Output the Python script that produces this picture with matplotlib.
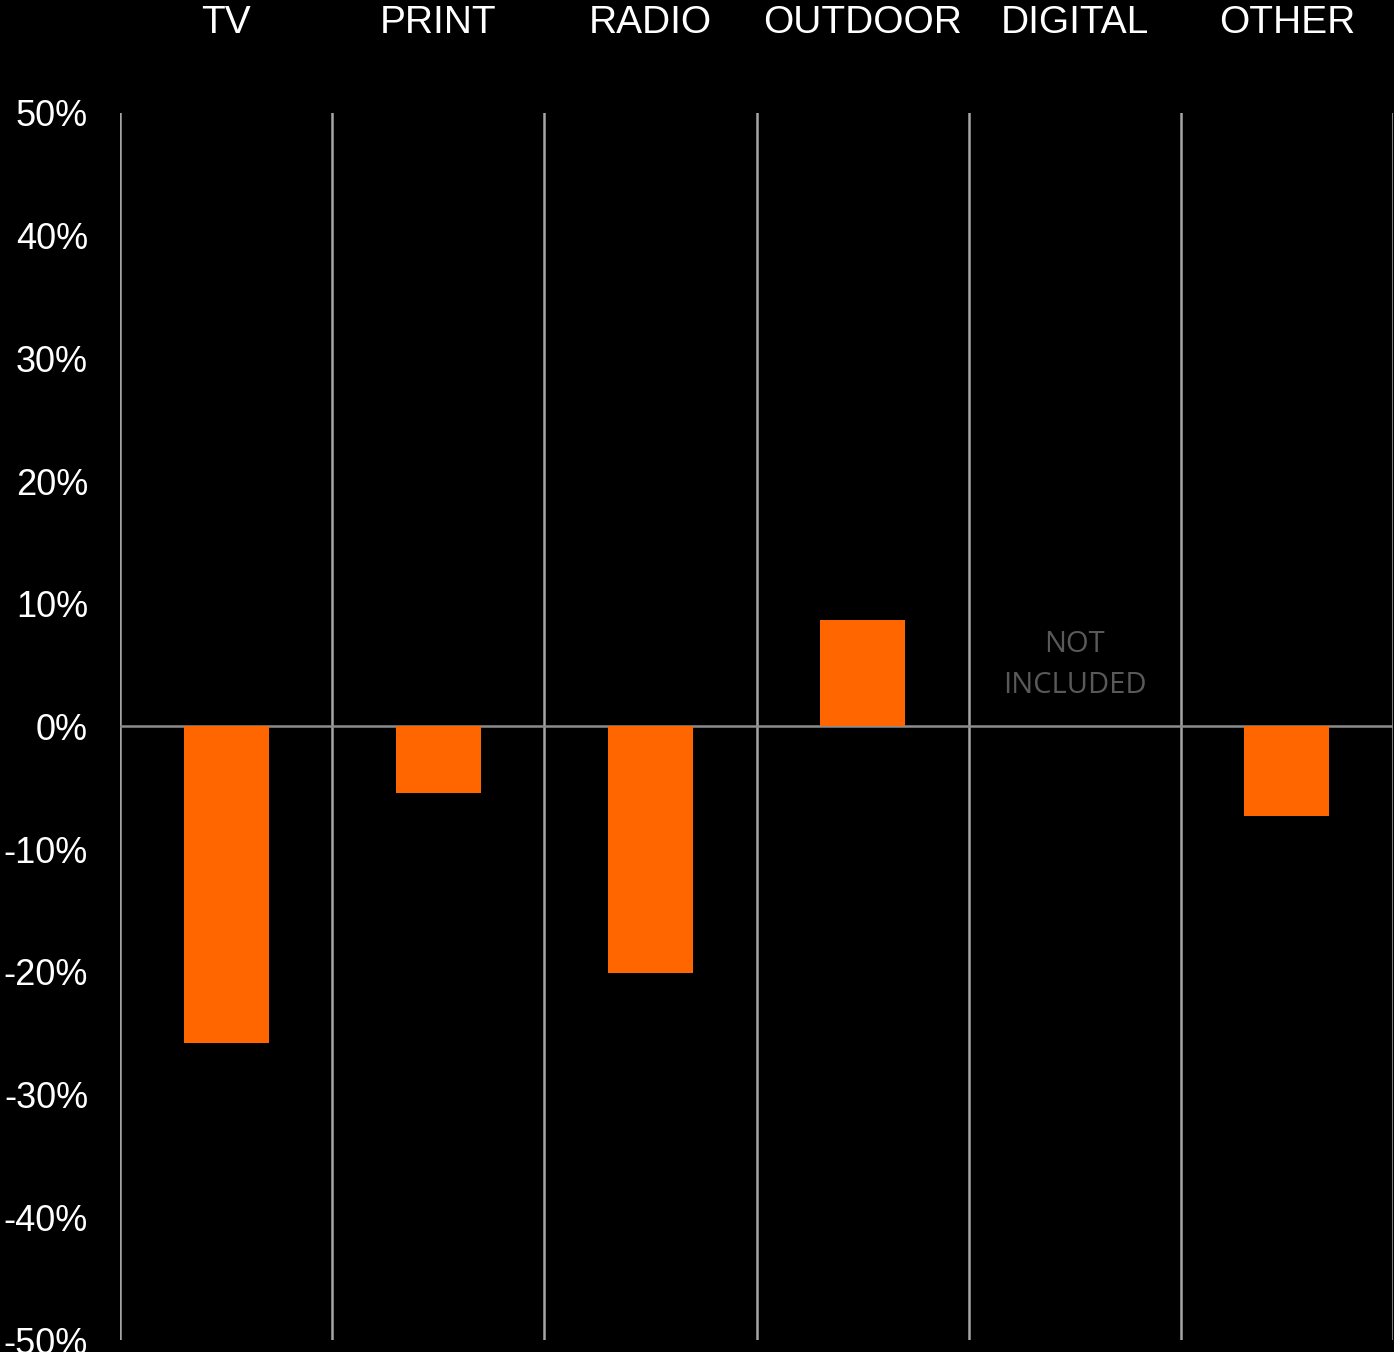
import numpy as np
import matplotlib
matplotlib.use("Agg")
import matplotlib.pyplot as plt
from matplotlib.ticker import FuncFormatter

# Données
categories = ["TV", "PRINT", "RADIO", "OUTDOOR", "DIGITAL", "OTHER"]
variation = [-25.8, -5.4, -20.1, 8.7, np.nan, -7.3]
y_ticks = [50, 40, 30, 20, 10, 0, -10, -20, -30, -40, -50]
note_text = "NOT\nINCLUDED"
note_category = "DIGITAL"

plt.rcParams['font.family'] = ['Liberation Sans', 'DejaVu Sans']

fig = plt.figure(figsize=(13.94, 13.52), dpi=100, facecolor='black')
ax = fig.add_axes([120 / 1394, 12 / 1352, 1273 / 1394, 1227 / 1352])
ax.set_facecolor('black')

x = np.arange(len(categories))
values = np.array(variation, dtype=float)
mask = ~np.isnan(values)
ax.bar(x[mask], values[mask], width=0.4, color='#FF6600', zorder=3)

# séparateurs verticaux entre catégories
for b in np.arange(len(categories) + 1) - 0.5:
    ax.axvline(b, color='#a6a6a6', linewidth=1.8, zorder=1)
ax.axhline(0, color='#8c8c8c', linewidth=1.8, zorder=2)

# texte "NOT INCLUDED"
ax.text(categories.index(note_category), 5.0, note_text, ha='center', va='center',
        fontsize=21, color='#595959', family=['Open Sans', 'DejaVu Sans'],
        linespacing=1.55, zorder=4)

ax.set_xlim(-0.5, len(categories) - 0.5)
ax.set_ylim(-50, 50)
ax.set_yticks(y_ticks)
ax.yaxis.set_major_formatter(FuncFormatter(lambda v, p: f"{v:.0f}%"))
ax.tick_params(axis='y', length=0, pad=23, labelsize=26, labelcolor='white')

ax.set_xticks(x)
ax.set_xticklabels(categories)
ax.xaxis.tick_top()
ax.tick_params(axis='x', length=0, pad=52, labelsize=28, labelcolor='white')

for s in ax.spines.values():
    s.set_visible(False)

plt.savefig('out.png', dpi=100, facecolor='black')
